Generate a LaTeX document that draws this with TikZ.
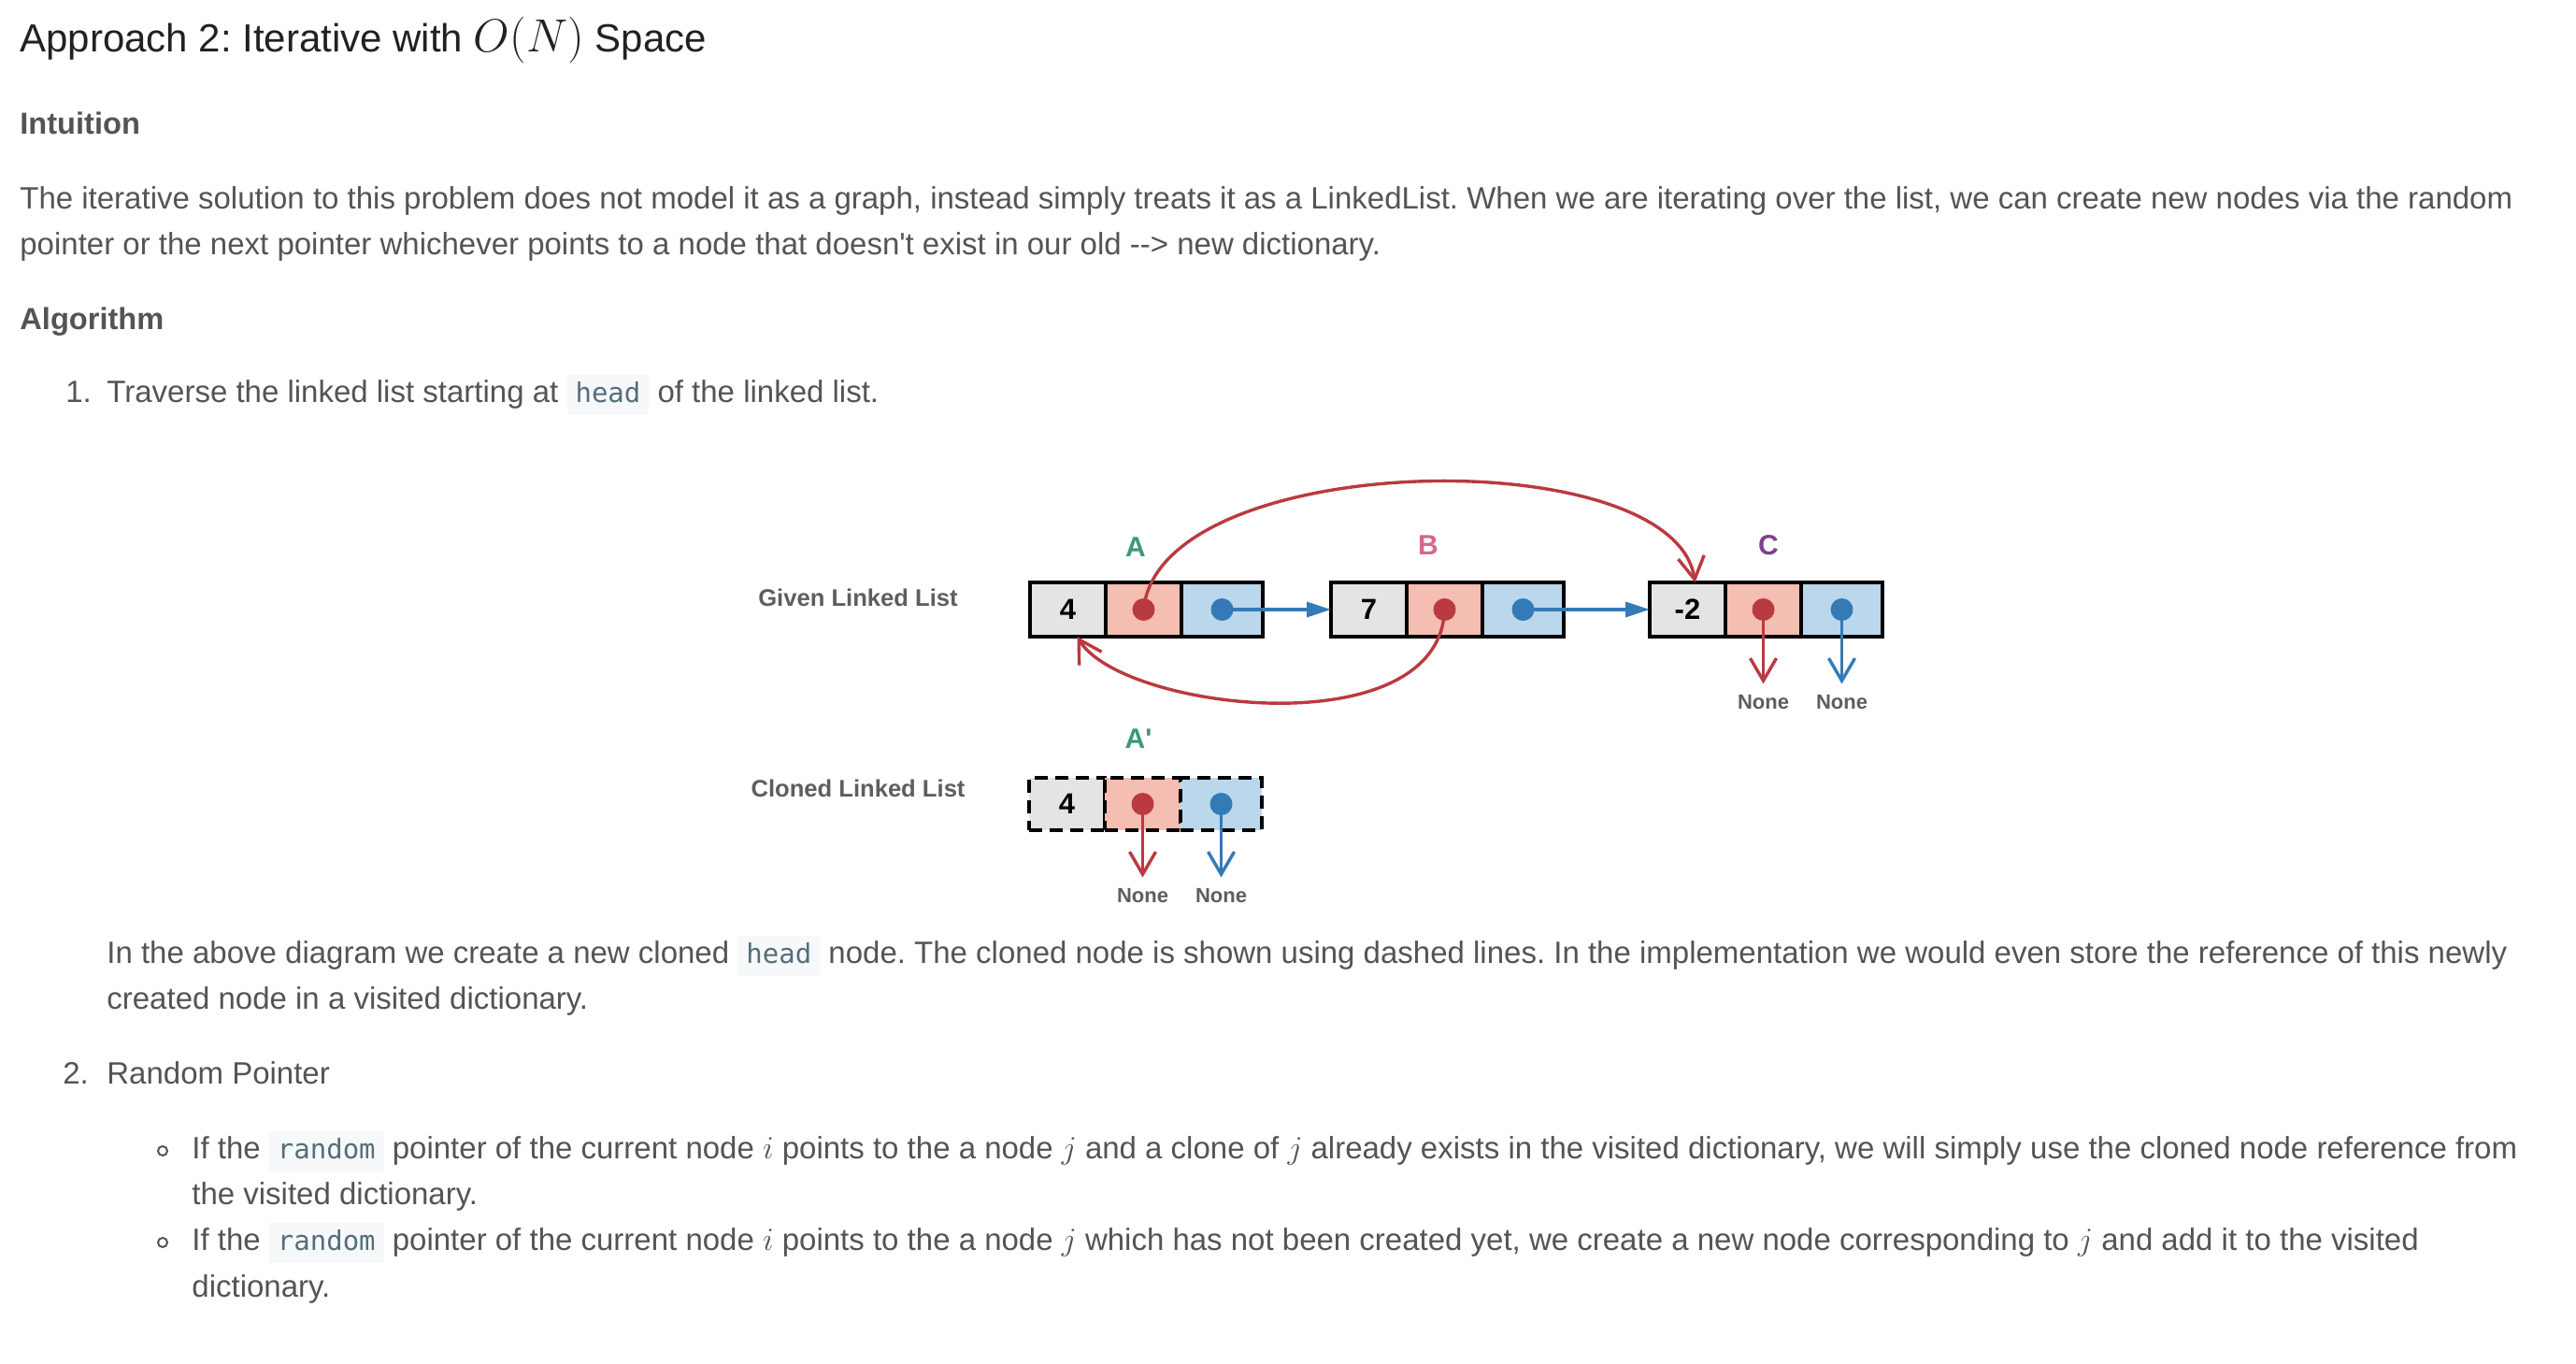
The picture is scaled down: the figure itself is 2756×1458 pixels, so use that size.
\documentclass[tikz,border=0pt]{standalone}
\usepackage{fontspec}
\setmainfont{Liberation Sans}
\newfontfamily\codefont{DejaVu Sans Mono}
\usetikzlibrary{arrows.meta,positioning}
\usepackage{xcolor}
\definecolor{ColRed}{RGB}{185,58,64}
\definecolor{ColBlue}{RGB}{52,122,183}
\definecolor{FillVal}{RGB}{228,228,228}
\definecolor{FillRnd}{RGB}{244,190,178}
\definecolor{FillNxt}{RGB}{186,215,236}
\definecolor{ColA}{RGB}{62,152,120}
\definecolor{ColB}{RGB}{212,104,138}
\definecolor{ColC}{RGB}{124,63,141}
\definecolor{TxtGray}{RGB}{84,84,84}
\definecolor{LblGray}{RGB}{94,94,94}
\definecolor{TxtDark}{RGB}{33,33,33}
\definecolor{CodeBg}{RGB}{246,248,250}
\definecolor{CodeTxt}{RGB}{84,110,122}
\frenchspacing
\newcommand{\Code}[1]{{\setlength{\fboxsep}{0pt}\colorbox{CodeBg}{\rule[-7pt]{0pt}{21.5pt}\hspace{4.5pt}{\codefont\fontsize{14.5}{17}\selectfont\color{CodeTxt}#1}\hspace{4.5pt}}}}
\tikzstyle{Cell}=[draw=black,line width=2pt,inner sep=0pt,outer sep=0pt,minimum height=29pt,
font=\fontsize{15.5}{18}\selectfont\bfseries]
\tikzstyle{CellVal}=[Cell,fill=FillVal,minimum width=40.5pt]
\tikzstyle{CellRnd}=[Cell,fill=FillRnd,minimum width=40.5pt]
\tikzstyle{CellNxt}=[Cell,fill=FillNxt,minimum width=43.5pt]
\tikzstyle{Clone}=[dash pattern=on 7pt off 4pt,minimum height=28pt]
\tikzstyle{DotRed}=[circle,fill=ColRed,inner sep=0pt,minimum size=12pt]
\tikzstyle{DotBlue}=[circle,fill=ColBlue,inner sep=0pt,minimum size=12pt]
\tikzstyle{RndEdge}=[ColRed,line width=1.7pt,-{Straight Barb[length=12pt,width=14pt]}]
\tikzstyle{NilEdge}=[ColBlue,line width=1.7pt,-{Straight Barb[length=12pt,width=14pt]}]
\tikzstyle{NxtEdge}=[ColBlue,line width=1.7pt,-{Triangle[length=13pt,width=8pt]}]
\tikzstyle{NoneLbl}=[anchor=base,inner xsep=0pt,inner ysep=5.5pt,text=LblGray,
font=\fontsize{11}{13}\selectfont\bfseries]
\tikzstyle{ListLbl}=[anchor=base,inner sep=0pt,text=LblGray,font=\fontsize{12.8}{15}\selectfont\bfseries]
\tikzstyle{NameLbl}=[inner sep=0pt,font=\fontsize{15}{18}\selectfont\bfseries]
\tikzstyle{Body}=[anchor=base west,inner sep=0pt,text=TxtGray,font=\fontsize{16.5}{20}\selectfont]
\tikzstyle{Heading}=[Body,font=\fontsize{16.3}{20}\selectfont\bfseries]
\tikzstyle{Bullet}=[circle,draw=TxtGray,line width=1pt,inner sep=0pt,minimum size=5pt]

\begin{document}
\begin{tikzpicture}[x=0.5pt,y=-0.5pt]
    \useasboundingbox[fill=white](0,0)rectangle(2756,1458);
    % page text
    \node[anchor=base west,inner sep=0pt,text=TxtDark,font=\fontsize{21}{25}\selectfont](title)at(21,55)
        {Approach 2: Iterative with {\fontsize{25}{30}\selectfont$O(N)$} Space};
    \node[Heading](intu)at(21,143){Intuition};
    \node[Body](p1)at(21,223){The iterative solution to this problem does not model it as a graph, instead simply treats it as a LinkedList. When we are iterating over the list, we can create new nodes via the random};
    \node[Body](p2)at(21,272){pointer or the next pointer whichever points to a node that doesn\textquotesingle t exist in our old -{}-{}> new dictionary.};
    \node[Heading](algo)at(21,352){Algorithm};
    \node[Body](n1)at(70,430){1.};
    \node[Body](s1)at(114,430){Traverse the linked list starting at \Code{head} of the linked list.};
    \node[Body](s1a)at(114,1030){In the above diagram we create a new cloned \Code{head} node. The cloned node is shown using dashed lines. In the implementation we would even store the reference of this newly};
    \node[Body](s1b)at(114,1079){created node in a visited dictionary.};
    \node[Body](n2)at(67,1159){2.};
    \node[Body](s2)at(114,1159){Random Pointer};
    \node[Bullet](u1)at(174,1231){};
    \node[Body](u1a)at(205,1239){If the \Code{random} pointer of the current node $i$ points to the a node $j$ and a clone of $j$ already exists in the visited dictionary, we will simply use the cloned node reference from};
    \node[Body](u1b)at(205,1288){the visited dictionary.};
    \node[Bullet](u2)at(174,1329){};
    \node[Body](u2a)at(205,1337){If the \Code{random} pointer of the current node $i$ points to the a node $j$ which has not been created yet, we create a new node corresponding to $j$ and add it to the visited};
    \node[Body](u2b)at(205,1387){dictionary.};
    % given list
    \node[ListLbl](lgiven)at(918,648){Given Linked List};
    \node[CellVal,anchor=west](a1)at(1102,652){4};
    \node[CellRnd,right=0pt of a1](a2){};
    \node[CellNxt,right=0pt of a2](a3){};
    \node[CellVal,anchor=west](b1)at(1424,652){7};
    \node[CellRnd,right=0pt of b1](b2){};
    \node[CellNxt,right=0pt of b2](b3){};
    \node[CellVal,anchor=west](c1)at(1765,652){-2};
    \node[CellRnd,right=0pt of c1](c2){};
    \node[CellNxt,right=0pt of c2](c3){};
    \node[NameLbl,text=ColA](la)at(1215,585){A};
    \node[NameLbl,text=ColB](lb)at(1528,583){B};
    \node[NameLbl,text=ColC](lc)at(1892,583){C};
    \node[DotRed](ar)at(a2){};
    \node[DotBlue](an)at(a3){};
    \node[DotRed](br)at(b2){};
    \node[DotBlue](bn)at(b3){};
    \node[DotRed](cr)at(c2){};
    \node[DotBlue](cn)at(c3){};
    \node[NoneLbl](crnone)at([yshift=-53pt]cr.center){None};
    \node[NoneLbl](cnnone)at([yshift=-53pt]cn.center){None};
    \draw[NxtEdge](an.center)--(b1.west);
    \draw[NxtEdge](bn.center)--(c1.west);
    \draw[RndEdge](ar.center)..controls(1240,480)and(1790,470)..([xshift=4pt]c1.north);
    \draw[RndEdge](br.center)..controls(1540,800)and(1200,760)..([xshift=5pt]a1.south);
    \draw[RndEdge](cr.center)--(crnone.north);
    \draw[NilEdge](cn.center)--(cnnone.north);
    % cloned list
    \node[ListLbl](lclone)at(918,852){Cloned Linked List};
    \node[CellVal,Clone,anchor=west](p1)at(1101,860){4};
    \node[CellRnd,Clone,right=0pt of p1](p2){};
    \node[CellNxt,Clone,right=0pt of p2](p3){};
    \node[NameLbl,text=ColA](lap)at(1218,790){A\textquotesingle};
    \node[DotRed](pr)at(p2){};
    \node[DotBlue](pn)at(p3){};
    \node[NoneLbl](prnone)at([yshift=-52.5pt]pr.center){None};
    \node[NoneLbl](pnnone)at([yshift=-52.5pt]pn.center){None};
    \draw[RndEdge](pr.center)--(prnone.north);
    \draw[NilEdge](pn.center)--(pnnone.north);
\end{tikzpicture}
\end{document}
